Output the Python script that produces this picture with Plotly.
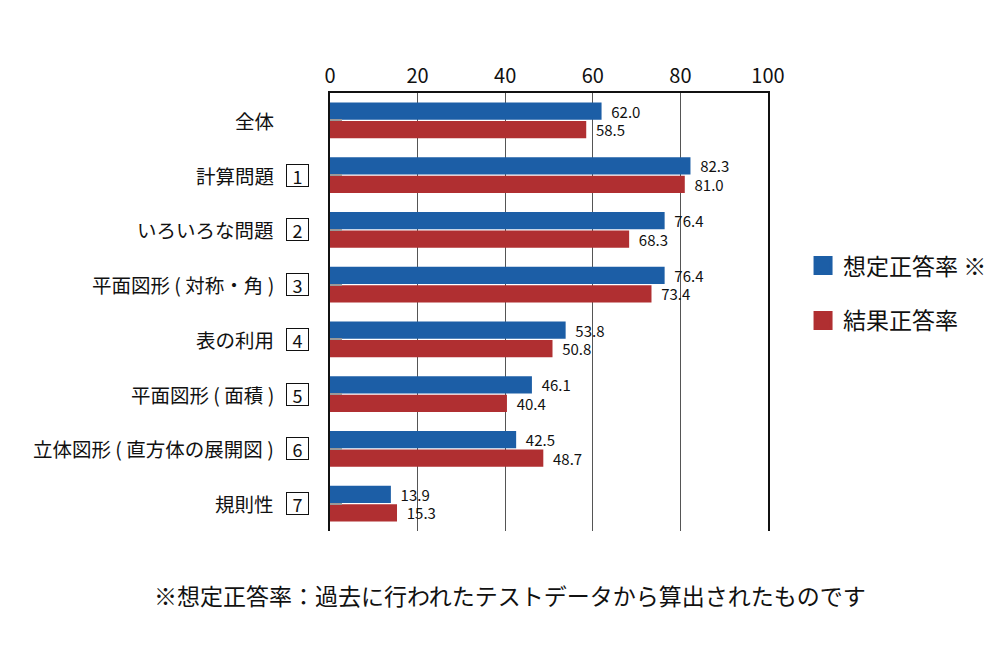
import plotly.graph_objects as go

categories = ["全体", "計算問題", "いろいろな問題", "平面図形 ( 対称・角 )", "表の利用",
              "平面図形 ( 面積 )", "立体図形 ( 直方体の展開図 )", "規則性"]
box_numbers = ["", "1", "2", "3", "4", "5", "6", "7"]
expected = [62.0, 82.3, 76.4, 76.4, 53.8, 46.1, 42.5, 13.9]
actual = [58.5, 81.0, 68.3, 73.4, 50.8, 40.4, 48.7, 15.3]
series_names = ["想定正答率 ※", "結果正答率"]
x_ticks = [0, 20, 40, 60, 80, 100]
footnote = "※想定正答率：過去に行われたテストデータから算出されたものです"

FONT = "Noto Sans CJK JP"
BLUE = "#1c5ea6"
RED = "#b02f31"

fig = go.Figure()
for name, vals, col in [(series_names[0], expected, BLUE), (series_names[1], actual, RED)]:
    fig.add_trace(go.Bar(
        y=categories, x=vals, orientation="h", name=name,
        marker=dict(color=col, line=dict(width=0)),
        text=[f"\u00a0\u00a0{v:.1f}" for v in vals],
        textposition="outside", cliponaxis=False, constraintext="none",
        textfont=dict(family=FONT, size=15, color="#111"),
        showlegend=False,
    ))
    fig.add_trace(go.Scatter(
        x=[None], y=[None], mode="markers", name=name,
        marker=dict(symbol="square", size=16, color=col, line=dict(color=col, width=3)),
        showlegend=True, legendgroup=name,
    ))

annotations = []
for cat, num in zip(categories, box_numbers):
    annotations.append(dict(
        x=-0.124, xref="paper", y=cat, yref="y", text=cat, showarrow=False,
        xanchor="right", yanchor="middle",
        font=dict(family=FONT, size=19.5, color="#111"),
    ))
    if num:
        annotations.append(dict(
            x=-0.0753, xref="paper", y=cat, yref="y", text=num, showarrow=False,
            xanchor="center", yanchor="middle", width=19, height=19,
            bordercolor="#111", borderwidth=1, borderpad=1, bgcolor="white",
            font=dict(family=FONT, size=18, color="#111"),
        ))
annotations.append(dict(
    x=0.411, xref="paper", y=-0.146, yref="paper", text=footnote, showarrow=False,
    xanchor="center", yanchor="middle",
    font=dict(family=FONT, size=23, color="#111"),
))

fig.update_layout(
    width=1000, height=660,
    margin=dict(l=322, r=240, t=85, b=137),
    paper_bgcolor="white", plot_bgcolor="white",
    barmode="group", bargap=0.32, bargroupgap=0.08,
    font=dict(family=FONT, color="#111"),
    annotations=annotations,
    legend=dict(
        x=1.08, xanchor="left", y=0.655, yanchor="top",
        font=dict(family=FONT, size=23, color="#111"),
        tracegroupgap=22, bgcolor="rgba(0,0,0,0)",
    ),
    xaxis=dict(
        side="top", range=[0, 100], tickvals=x_ticks,
        tickfont=dict(family=FONT, size=20, color="#111"),
        showgrid=True, gridcolor="#555", gridwidth=1,
        showline=True, linecolor="#111", linewidth=1.5,
        zeroline=False, ticks="", fixedrange=True,
    ),
    yaxis=dict(
        autorange="reversed", showticklabels=False,
        showline=True, linecolor="#111", linewidth=1.5, mirror=True,
        ticks="inside", ticklen=12, tickwidth=2, tickcolor="#999",
        showgrid=False, fixedrange=True,
    ),
)

fig.write_html("out.html")
